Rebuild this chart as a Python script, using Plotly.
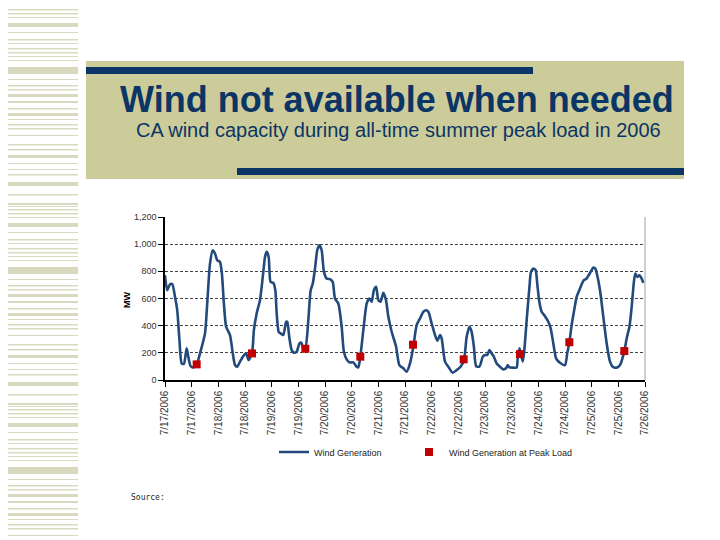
import plotly.graph_objects as go

# ---- data ----
# hours since 7/17/2006 00:00 and wind generation (MW)
gen_hours = [0, 1, 2.25, 3.3, 4.5, 5.5, 6.5, 7.5, 8.5, 9.75, 10.5, 11.5, 12.75, 14.25, 15.75, 18, 19, 20.25,
             21.5, 22.5, 23.5, 24.75, 25.6, 26.5, 27.5, 29.25, 30.5, 31.5, 32.5, 33.75, 35.25, 36.5, 37.6,
             39.15, 40, 41.25, 42.75, 44, 45, 45.75, 46.65, 47.5, 48.75, 49.65, 50.25, 51.15, 52, 53.25,
             54.5, 55, 56, 57, 58, 59.25, 60.5, 61.35, 62.25, 63.15, 64.5, 65.55, 66.5, 67.5, 68.5, 69.5,
             70.5, 71.5, 72.75, 74.25, 75.45, 76.5, 78, 79.5, 80.5, 81.75, 83, 84.75, 86.25, 87, 87.9,
             89.25, 90.75, 91.95, 93, 94, 95, 96, 97, 98.25, 99.45, 100.5, 102, 104, 105.45, 107.25,
             108.75, 110.25, 111.75, 113.25, 114.75, 116.25, 117.45, 118.5, 120, 121.5, 122.55, 123.75,
             124.5, 126, 127.5, 129.45, 131.25, 133, 134.55, 135.75, 137, 138, 139, 140, 141.5, 143, 144,
             145, 146, 147, 148, 149.25, 150.75, 152.25, 153.45, 154.2, 155, 156.75, 158.25, 158.7,
             159.5, 160, 161, 161.7, 162.75, 164, 164.7, 165.75, 166.8, 167.5, 168.45, 169.5, 171,
             172.5, 173.55, 174.75, 176, 177.75, 180, 181, 181.95, 183, 184, 185.25, 186.45, 187.65,
             188.5, 189.75, 190.65, 191.7, 192.75, 193.65, 194.5, 195.75, 197.25, 198.75, 200.25,
             201.45, 203.25, 204.75, 206.7, 207.75, 209, 210, 211, 211.65, 212.55, 213.45, 214.5, 215.25]
gen_mw = [771, 661, 705, 705, 612, 514, 294, 122, 118, 233, 171, 103, 93, 115, 196, 343, 563, 857,
          955, 931, 882, 869, 784, 563, 392, 331, 196, 110, 98, 135, 176, 196, 147,
          196, 367, 490, 588, 759, 906, 943, 906, 722, 715, 661, 490, 355, 343, 331,
          429, 429, 306, 220, 201, 208, 269, 274, 233, 233, 441, 661, 710, 820, 955, 992,
          955, 800, 747, 742, 722, 600, 563, 392, 208, 152, 130, 130, 98, 93, 171,
          367, 563, 600, 576, 661, 686, 588, 576, 642, 588, 465, 355, 245, 110, 86,
          61, 122, 245, 404, 453, 502, 514, 502, 416, 331, 289, 331,
          306, 135, 98, 54, 73, 98, 147, 318, 392, 355, 245, 103, 98, 171, 184,
          184, 220, 196, 171, 122, 98, 78, 86, 110, 93, 91, 91, 159,
          233, 196, 135, 220, 441, 686, 796, 820, 808, 710, 576, 502, 470,
          429, 380, 269, 159, 127, 110, 196, 277, 404, 502, 612, 661, 710,
          735, 747, 771, 801, 828, 820, 771, 661, 465, 269, 135,
          98, 91, 110, 213, 306, 392, 539, 722, 784, 759, 771, 747, 715]

peak_hours = [14.25, 39.15, 63.15, 87.9, 111.6, 134.4, 159.75, 181.95, 206.7]
peak_mw = [115, 196, 230, 172, 260, 152, 191, 278, 213]

tick_hours = [0, 12, 24, 36, 48, 60, 72, 84, 96, 108, 120, 132, 144, 156, 168, 180, 192, 204, 216]
tick_labels = ["7/17/2006", "7/17/2006", "7/18/2006", "7/18/2006", "7/19/2006", "7/19/2006",
               "7/20/2006", "7/20/2006", "7/21/2006", "7/21/2006", "7/22/2006", "7/22/2006",
               "7/23/2006", "7/23/2006", "7/24/2006", "7/24/2006", "7/25/2006", "7/25/2006",
               "7/26/2006"]

title_text = "Wind not available when needed"
subtitle_text = "CA wind capacity during all-time summer peak load in 2006"

# ---- layout geometry (page pixels; the page body adds an 8px offset) ----
OFF = 8
W, H = 720 - OFF, 540 - OFF
L, R, T, B = 165, 645, 217, 380   # plot area in page pixels


def u(px):
    return (px - L) / (R - L)


def v(py):
    return (B - py) / (B - T)


fig = go.Figure()
fig.add_trace(go.Scatter(x=gen_hours, y=gen_mw, mode="lines", name="Wind Generation",
                         line=dict(color="#234a7c", width=2.6, shape="spline", smoothing=0.6),
                         legend="legend"))
fig.add_trace(go.Scatter(x=peak_hours, y=peak_mw, mode="markers", name="Wind Generation at Peak Load",
                         marker=dict(symbol="square", color="#c00000", size=8, line=dict(width=0)),
                         legend="legend2"))

shapes = []
stripe_pattern = [(3, 2), (6, 1), (9, 1.5), (13, 1.5), (17, 1), (23, 4), (32, 1), (39, 1.5), (43, 1),
                  (48, 1.5), (52, 1.5), (56, 1), (60, 1), (67, 7), (79, 1), (85, 1.5), (89, 1.5),
                  (94, 3), (101, 2), (108, 1.5), (113, 3), (119, 1), (124, 1.5), (128, 1.5),
                  (135, 1), (144, 1.5), (149, 1.5), (155, 3), (163, 1), (169, 1), (174, 1.5),
                  (182, 4), (194, 1.5)]
for rep in range(3):
    for (y0, hgt) in stripe_pattern:
        yy = y0 + rep * 200
        if yy > 540:
            continue
        shapes.append(dict(type="rect", xref="paper", yref="paper", layer="below",
                           x0=u(OFF), x1=u(78), y0=v(max(yy, OFF)), y1=v(max(yy + hgt, OFF)),
                           fillcolor="#d9d9bf", line=dict(width=0)))
shapes.append(dict(type="rect", xref="paper", yref="paper", layer="below",
                   x0=u(86), x1=u(684), y0=v(61), y1=v(179),
                   fillcolor="#cccc9a", line=dict(width=0)))
shapes.append(dict(type="rect", xref="paper", yref="paper", layer="below",
                   x0=u(86), x1=u(533), y0=v(67), y1=v(74),
                   fillcolor="#0b3564", line=dict(width=0)))
shapes.append(dict(type="rect", xref="paper", yref="paper", layer="below",
                   x0=u(237), x1=u(684), y0=v(168), y1=v(175),
                   fillcolor="#0b3564", line=dict(width=0)))
shapes.append(dict(type="line", xref="paper", yref="paper", layer="above",
                   x0=1, x1=1, y0=0, y1=1, line=dict(color="#a0a0a0", width=1)))

annotations = [
    dict(text="<b>" + title_text + "</b>", xref="paper", yref="paper", x=u(397), y=v(100),
         xanchor="center", yanchor="middle", showarrow=False,
         font=dict(family="Arial, Liberation Sans", size=36, color="#0b3564")),
    dict(text=subtitle_text, xref="paper", yref="paper", x=u(398), y=v(130),
         xanchor="center", yanchor="middle", showarrow=False,
         font=dict(family="Arial, Liberation Sans", size=20, color="#0b3564")),
    dict(text="<b>MW</b>", xref="paper", yref="paper", x=u(127), y=v(300),
         xanchor="center", yanchor="middle", showarrow=False, textangle=-90,
         font=dict(family="Arial, Liberation Sans", size=9, color="#000")),
    dict(text="Source:", xref="paper", yref="paper", x=u(129), y=v(497),
         xanchor="left", yanchor="middle", showarrow=False,
         font=dict(family="DejaVu Sans Mono, monospace", size=8, color="#222")),
]

fig.update_layout(
    width=W, height=H,
    margin=dict(l=L - OFF, r=W - (R - OFF), t=T - OFF, b=H - (B - OFF), pad=0),
    paper_bgcolor="white", plot_bgcolor="rgba(0,0,0,0)",
    font=dict(family="Arial, Liberation Sans", color="#333"),
    shapes=shapes, annotations=annotations,
    showlegend=True,
    legend=dict(orientation="h", x=u(274), y=v(452), xanchor="left", yanchor="middle",
                font=dict(size=9, color="#222"), bgcolor="rgba(0,0,0,0)"),
    legend2=dict(orientation="h", x=u(409), y=v(452), xanchor="left", yanchor="middle",
                 font=dict(size=9, color="#222"), bgcolor="rgba(0,0,0,0)"),
)
fig.update_xaxes(range=[0, 216], tickmode="array", tickvals=tick_hours, ticktext=tick_labels,
                 tickangle=-90, tickfont=dict(size=10, color="#333"), showgrid=False,
                 showline=True, linecolor="#000", linewidth=1.5, ticks="outside", ticklen=5,
                 tickcolor="#000", zeroline=False)
fig.update_yaxes(range=[0, 1200], tickvals=[0, 200, 400, 600, 800, 1000, 1200], tickformat=",",
                 tickfont=dict(size=9, color="#333"), showgrid=True, gridcolor="#444",
                 griddash="3px,2px", gridwidth=1, showline=True, linecolor="#000", linewidth=1.5,
                 ticks="outside", ticklen=5, tickcolor="#000", zeroline=False)

fig.write_html("out.html")
